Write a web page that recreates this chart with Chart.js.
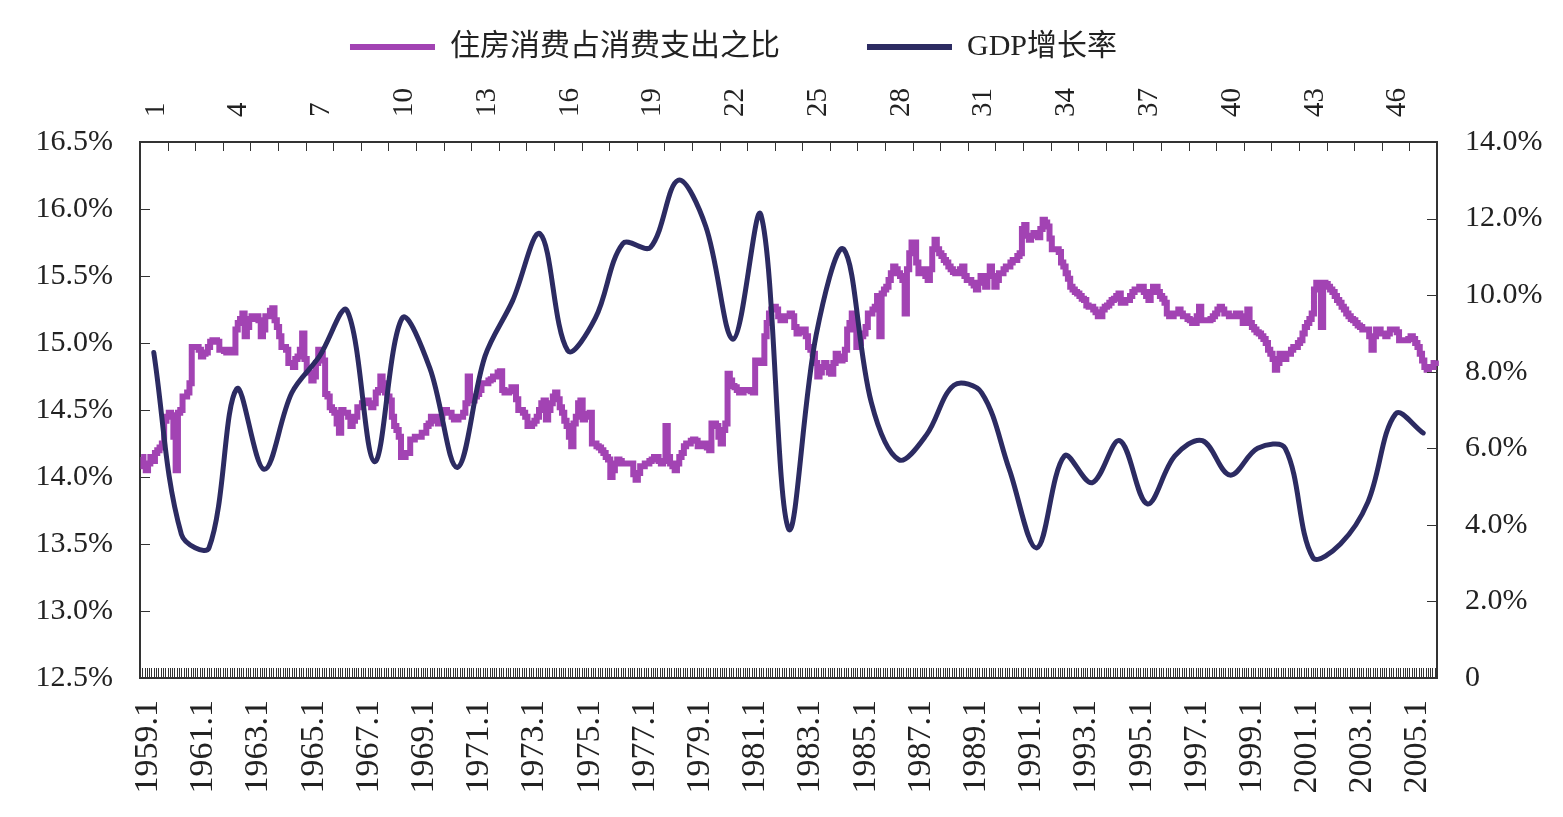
<!DOCTYPE html>
<html lang="zh">
<head>
<meta charset="UTF-8">
<title>住房消费占消费支出之比与GDP增长率</title>
<style>
    body { margin: 0; background: #fff; }
    canvas { display: block; }
</style>
<script src="https://cdn.jsdelivr.net/npm/chart.js"></script>
</head>
<body>

<canvas id="chart" width="1563" height="817"></canvas>

<script>
// years on the top axis (1..47) and months on the bottom axis
const years = Array.from({ length: 47 }, (_, i) => 1959 + i);
const topLabels = years.map((_, i) => String(i + 1));
const monthLabels = years.flatMap(y => Array.from({ length: 12 }, (_, m) => y + "." + (m + 1)));

// 住房消费占消费支出之比, monthly, %
const housingShare = [
    14.15, 14.08, 14.05, 14.10, 14.15, 14.12, 14.18, 14.20, 14.22, 14.25, 14.42, 14.45, // 1959
    14.48, 14.46, 14.30, 14.05, 14.48, 14.50, 14.60, 14.60, 14.63, 14.70, 14.97, 14.97, // 1960
    14.97, 14.95, 14.90, 14.92, 14.93, 14.97, 15.01, 15.02, 15.02, 15.01, 14.95, 14.95, // 1961
    14.94, 14.93, 14.95, 14.93, 14.93, 15.10, 15.15, 15.18, 15.22, 15.05, 15.12, 15.18, // 1962
    15.20, 15.18, 15.20, 15.17, 15.05, 15.10, 15.20, 15.20, 15.24, 15.26, 15.17, 15.12, // 1963
    15.05, 14.97, 14.97, 14.95, 14.85, 14.85, 14.82, 14.88, 14.90, 14.95, 15.07, 14.88, // 1964
    14.80, 14.78, 14.72, 14.75, 14.85, 14.95, 14.92, 14.87, 14.62, 14.60, 14.52, 14.50, // 1965
    14.48, 14.40, 14.33, 14.50, 14.48, 14.48, 14.45, 14.38, 14.42, 14.45, 14.52, 14.52, // 1966
    14.55, 14.57, 14.57, 14.55, 14.52, 14.55, 14.63, 14.65, 14.75, 14.70, 14.63, 14.60, // 1967
    14.57, 14.45, 14.38, 14.35, 14.30, 14.15, 14.15, 14.18, 14.18, 14.28, 14.28, 14.30, // 1968
    14.30, 14.30, 14.33, 14.33, 14.38, 14.40, 14.45, 14.45, 14.42, 14.40, 14.45, 14.50, // 1969
    14.50, 14.48, 14.48, 14.45, 14.43, 14.43, 14.45, 14.45, 14.48, 14.55, 14.75, 14.60, // 1970
    14.57, 14.60, 14.62, 14.65, 14.70, 14.70, 14.70, 14.72, 14.73, 14.75, 14.75, 14.78, // 1971
    14.79, 14.65, 14.63, 14.63, 14.64, 14.67, 14.67, 14.58, 14.50, 14.50, 14.48, 14.45, // 1972
    14.38, 14.38, 14.40, 14.42, 14.45, 14.50, 14.55, 14.57, 14.43, 14.50, 14.55, 14.60, // 1973
    14.63, 14.58, 14.52, 14.48, 14.42, 14.38, 14.30, 14.23, 14.40, 14.45, 14.55, 14.57, // 1974
    14.43, 14.45, 14.47, 14.48, 14.25, 14.25, 14.23, 14.22, 14.20, 14.18, 14.15, 14.13, // 1975
    14.00, 14.05, 14.10, 14.13, 14.12, 14.10, 14.10, 14.10, 14.10, 14.10, 14.02, 13.98, // 1976
    14.03, 14.08, 14.08, 14.10, 14.10, 14.12, 14.13, 14.15, 14.15, 14.12, 14.10, 14.12, // 1977
    14.38, 14.15, 14.10, 14.08, 14.05, 14.10, 14.15, 14.18, 14.23, 14.25, 14.25, 14.27, // 1978
    14.28, 14.27, 14.23, 14.23, 14.25, 14.25, 14.22, 14.20, 14.40, 14.40, 14.38, 14.30, // 1979
    14.25, 14.35, 14.40, 14.77, 14.72, 14.68, 14.67, 14.65, 14.63, 14.63, 14.65, 14.65, // 1980
    14.65, 14.64, 14.63, 14.87, 14.87, 14.85, 14.85, 15.05, 15.15, 15.22, 15.25, 15.27, // 1981
    15.25, 15.20, 15.17, 15.17, 15.20, 15.20, 15.22, 15.20, 15.12, 15.07, 15.08, 15.10, // 1982
    15.10, 15.05, 14.97, 14.95, 14.92, 14.85, 14.75, 14.78, 14.82, 14.85, 14.82, 14.78, // 1983
    14.77, 14.85, 14.92, 14.90, 14.87, 14.88, 14.95, 15.10, 15.15, 15.22, 15.10, 14.97, // 1984
    15.00, 15.05, 15.07, 15.12, 15.22, 15.22, 15.25, 15.27, 15.35, 15.05, 15.37, 15.40, // 1985
    15.42, 15.47, 15.52, 15.57, 15.55, 15.52, 15.50, 15.47, 15.22, 15.55, 15.67, 15.75, // 1986
    15.75, 15.60, 15.52, 15.55, 15.55, 15.50, 15.47, 15.55, 15.70, 15.77, 15.70, 15.67, // 1987
    15.65, 15.62, 15.60, 15.57, 15.55, 15.53, 15.52, 15.52, 15.55, 15.57, 15.50, 15.47, // 1988
    15.47, 15.45, 15.43, 15.40, 15.45, 15.50, 15.45, 15.42, 15.50, 15.57, 15.50, 15.42, // 1989
    15.47, 15.52, 15.52, 15.55, 15.57, 15.57, 15.60, 15.62, 15.62, 15.65, 15.67, 15.85, // 1990
    15.88, 15.80, 15.77, 15.80, 15.82, 15.80, 15.79, 15.85, 15.92, 15.90, 15.87, 15.78, // 1991
    15.70, 15.70, 15.70, 15.68, 15.60, 15.57, 15.52, 15.48, 15.42, 15.40, 15.38, 15.37, // 1992
    15.35, 15.33, 15.32, 15.28, 15.27, 15.27, 15.25, 15.23, 15.20, 15.20, 15.25, 15.27, // 1993
    15.28, 15.30, 15.32, 15.33, 15.35, 15.37, 15.30, 15.30, 15.32, 15.32, 15.35, 15.38, // 1994
    15.40, 15.40, 15.42, 15.42, 15.38, 15.35, 15.32, 15.38, 15.42, 15.42, 15.38, 15.35, // 1995
    15.33, 15.30, 15.22, 15.20, 15.20, 15.22, 15.22, 15.25, 15.22, 15.20, 15.20, 15.18, // 1996
    15.17, 15.15, 15.15, 15.20, 15.27, 15.17, 15.17, 15.17, 15.17, 15.18, 15.20, 15.22, // 1997
    15.25, 15.27, 15.25, 15.22, 15.22, 15.20, 15.20, 15.20, 15.22, 15.22, 15.20, 15.15, // 1998
    15.20, 15.25, 15.15, 15.12, 15.10, 15.08, 15.07, 15.05, 15.03, 15.00, 14.95, 14.92, // 1999
    14.88, 14.80, 14.85, 14.92, 14.90, 14.88, 14.92, 14.92, 14.95, 14.97, 14.97, 15.00, // 2000
    15.02, 15.07, 15.12, 15.15, 15.18, 15.22, 15.40, 15.45, 15.42, 15.12, 15.45, 15.44, // 2001
    15.42, 15.40, 15.38, 15.35, 15.32, 15.30, 15.27, 15.25, 15.22, 15.20, 15.18, 15.17, // 2002
    15.15, 15.13, 15.12, 15.10, 15.10, 15.10, 15.05, 14.95, 15.05, 15.10, 15.10, 15.07, // 2003
    15.07, 15.05, 15.07, 15.10, 15.10, 15.10, 15.08, 15.02, 15.02, 15.02, 15.02, 15.03, // 2004
    15.05, 15.03, 15.00, 14.97, 14.92, 14.87, 14.82, 14.80, 14.82, 14.82, 14.85, 14.87  // 2005
];

// GDP增长率, yearly, %
const gdpGrowth = [
    8.5, 3.75, 3.4, 7.55, 5.45, 7.45, 8.4, 9.6, 5.65, 9.4,
    8.1, 5.5, 8.4, 9.85, 11.6, 8.55, 9.4, 11.35, 11.25, 13.0,
    11.8, 8.85, 12.1, 3.9, 8.95, 11.2, 7.2, 5.7, 6.35, 7.65,
    7.45, 5.45, 3.4, 5.8, 5.1, 6.2, 4.55, 5.8, 6.2, 5.3,
    6.0, 6.0, 3.15, 3.5, 4.6, 6.9, 6.4
];

const FONT = "'Liberation Serif', 'Noto Sans CJK SC', serif";
const INK = "#222";
const AXIS = "#333";

// tick marks drawn inside the plot box, as in the original
const innerTicks = {
    id: "innerTicks",
    afterDraw(chart) {
        const { ctx, chartArea: a, scales } = chart;
        ctx.save();
        ctx.strokeStyle = AXIS;
        ctx.lineWidth = 1;
        ctx.beginPath();
        const x = scales.x;
        for (let i = 0; i <= monthLabels.length; i++) {
            const px = Math.round(x.getPixelForValue(i - 0.5)) + 0.5;
            ctx.moveTo(px, a.bottom);
            ctx.lineTo(px, a.bottom - 10);
        }
        const x2 = scales.x2;
        for (let i = 1; i < topLabels.length; i++) {
            const px = Math.round(x2.getPixelForValue(i - 0.5)) + 0.5;
            ctx.moveTo(px, a.top);
            ctx.lineTo(px, a.top + 9);
        }
        scales.y.ticks.forEach(t => {
            const py = Math.round(scales.y.getPixelForValue(t.value)) + 0.5;
            ctx.moveTo(a.left, py);
            ctx.lineTo(a.left + 10, py);
        });
        scales.y1.ticks.forEach(t => {
            const py = Math.round(scales.y1.getPixelForValue(t.value)) + 0.5;
            ctx.moveTo(a.right, py);
            ctx.lineTo(a.right - 10, py);
        });
        ctx.stroke();
        ctx.restore();
    }
};

// the legend in the original sits a little left of the canvas centre
const legendShift = {
    id: "legendShift",
    afterLayout(chart) {
        chart.legend.right = chart.width - 96;
    }
};

new Chart(document.getElementById("chart"), {
    type: "line",
    data: {
        labels: monthLabels,
        datasets: [
            {
                label: "住房消费占消费支出之比",
                data: housingShare,
                xAxisID: "x",
                yAxisID: "y",
                borderColor: "#A243B3",
                backgroundColor: "#A243B3",
                borderWidth: 6,
                stepped: true,
                pointRadius: 0,
                order: 1
            },
            {
                label: "GDP增长率",
                data: gdpGrowth,
                xAxisID: "x2",
                yAxisID: "y1",
                borderColor: "#2C2B62",
                backgroundColor: "#2C2B62",
                borderWidth: 5,
                tension: 0.35,
                borderJoinStyle: "round",
                borderCapStyle: "round",
                pointRadius: 0,
                order: 0
            }
        ]
    },
    options: {
        responsive: false,
        animation: false,
        layout: { padding: { top: -55, right: 0, bottom: 0, left: 0 } },
        plugins: {
            tooltip: { enabled: false },
            legend: {
                position: "top",
                align: "center",
                labels: {
                    font: { size: 30, family: FONT },
                    color: INK,
                    boxWidth: 85,
                    boxHeight: 6,
                    padding: 87,
                    sort: (a, b) => a.datasetIndex - b.datasetIndex,
                    generateLabels(chart) {
                        const items = Chart.defaults.plugins.legend.labels.generateLabels(chart);
                        items.forEach(it => { it.fillStyle = it.strokeStyle; it.lineWidth = 0; });
                        return items;
                    }
                }
            }
        },
        scales: {
            x: {
                type: "category",
                position: "bottom",
                labels: monthLabels,
                offset: true,
                grid: { display: false, drawTicks: false },
                border: { display: true, color: AXIS, width: 2 },
                ticks: {
                    autoSkip: false,
                    minRotation: 90,
                    maxRotation: 90,
                    padding: 22,
                    labelOffset: 7,
                    color: INK,
                    font: { size: 34, family: FONT },
                    callback: (v, i) => (i % 24 === 0 ? monthLabels[i] : "")
                },
                afterFit: s => { s.height = 139; }
            },
            x2: {
                type: "category",
                position: "top",
                labels: topLabels,
                offset: true,
                grid: { display: false, drawTicks: false },
                border: { display: true, color: AXIS, width: 2 },
                ticks: {
                    autoSkip: false,
                    minRotation: 90,
                    maxRotation: 90,
                    padding: 25,
                    labelOffset: 37,
                    color: INK,
                    font: { size: 29, family: FONT },
                    callback: (v, i) => (i % 3 === 0 ? topLabels[i] : "")
                },
                afterFit: s => { s.height = 70; }
            },
            y: {
                position: "left",
                min: 12.5,
                max: 16.5,
                grid: { display: false, drawTicks: false },
                border: { display: true, color: AXIS, width: 2 },
                ticks: {
                    stepSize: 0.5,
                    padding: 27,
                    color: INK,
                    font: { size: 30, family: FONT },
                    callback: v => v.toFixed(1) + "%"
                },
                afterFit: s => { s.width = 140; }
            },
            y1: {
                position: "right",
                min: 0,
                max: 14,
                grid: { display: false, drawTicks: false },
                border: { display: true, color: AXIS, width: 2 },
                ticks: {
                    stepSize: 2,
                    padding: 28,
                    color: INK,
                    font: { size: 30, family: FONT },
                    callback: v => (v === 0 ? "0" : v.toFixed(1) + "%")
                },
                afterFit: s => { s.width = 126; }
            }
        }
    },
    plugins: [innerTicks, legendShift]
});
</script>

</body>
</html>
